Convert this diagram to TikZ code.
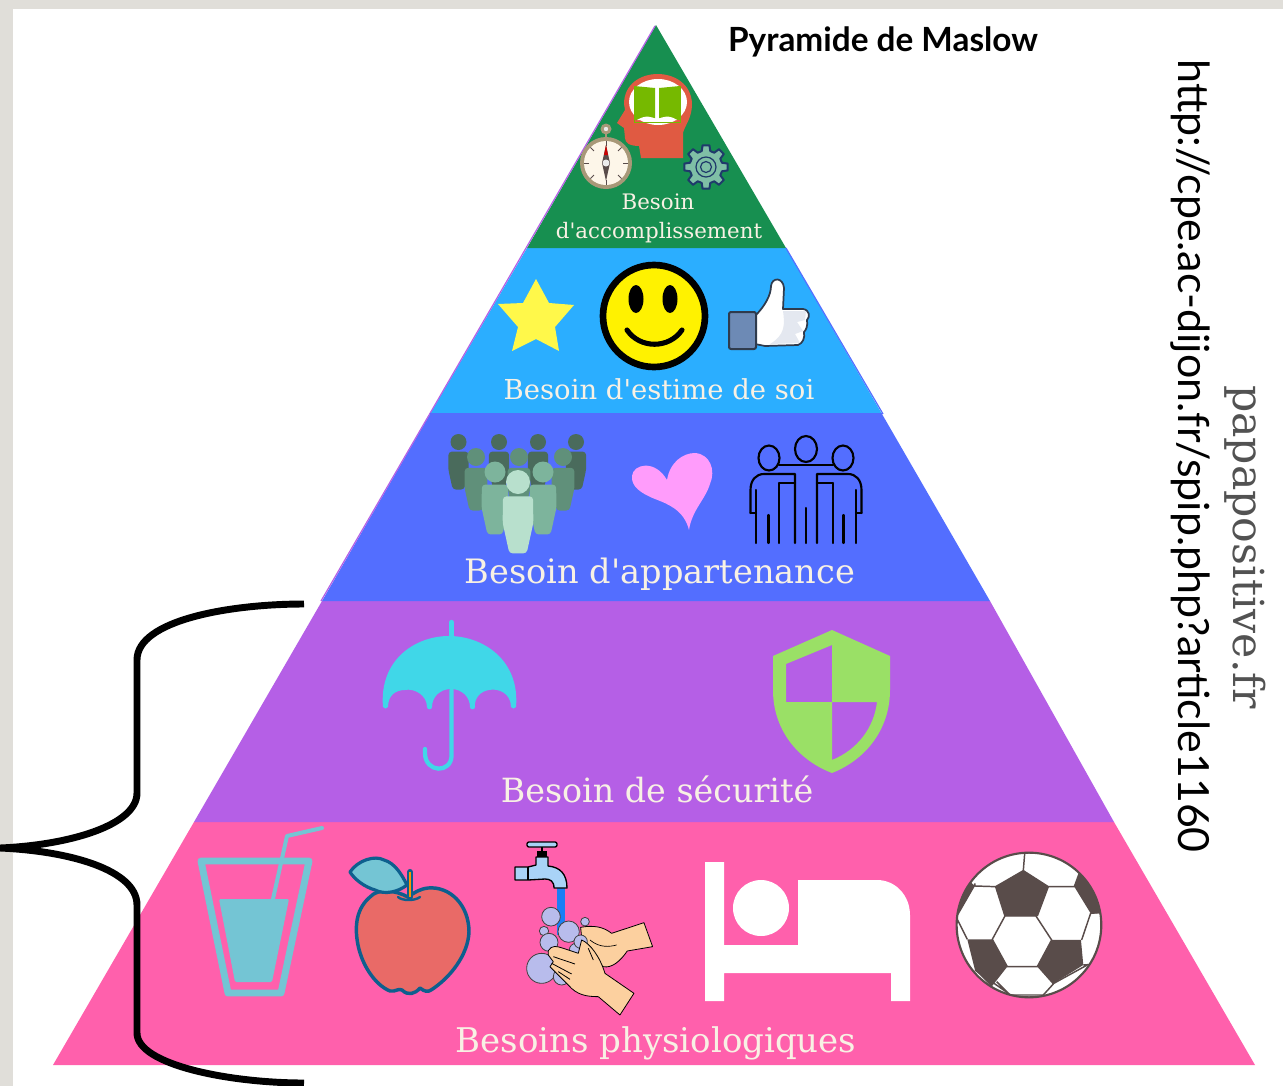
\documentclass[tikz,border=0pt]{standalone}
\usepackage{fontspec}
\newfontfamily\gill{Lato}
\newfontfamily\slab{DejaVu Serif}
\definecolor{bgband}{HTML}{E0DED9}
\definecolor{lgreen}{HTML}{178F50}
\definecolor{lblue}{HTML}{2BAEFF}
\definecolor{lperi}{HTML}{536EFF}
\definecolor{lpurple}{HTML}{B55FE6}
\definecolor{lpink}{HTML}{FF60AC}
\definecolor{cream}{HTML}{F8F1E4}
\definecolor{teal}{HTML}{74C5D4}
\definecolor{ballc}{HTML}{594C4A}
\definecolor{soap}{HTML}{B8BCEC}
\definecolor{skin}{HTML}{FCD09F}
\definecolor{tapc}{HTML}{A9D3F7}
\definecolor{headc}{HTML}{E05A42}
\definecolor{bookc}{HTML}{76B900}
\definecolor{brass}{HTML}{A89878}
\definecolor{dial}{HTML}{FDF6E9}
\definecolor{gearf}{HTML}{7FBFA6}
\definecolor{geard}{HTML}{1F3A6B}
\definecolor{starc}{HTML}{FFF84A}
\definecolor{smile}{HTML}{FFF200}
\definecolor{thumbd}{HTML}{2F3B4D}
\definecolor{thumbs}{HTML}{E4E8F0}
\definecolor{cuff}{HTML}{6D8AB5}
\definecolor{pa}{HTML}{4A6B5C}
\definecolor{pb}{HTML}{60907A}
\definecolor{pc}{HTML}{7DB49C}
\definecolor{pd}{HTML}{B8E0CD}
\definecolor{heartc}{HTML}{FF9CFB}
\definecolor{umb}{HTML}{40D7E8}
\definecolor{shieldc}{HTML}{9AE066}
\definecolor{applec}{HTML}{E96A67}
\definecolor{appled}{HTML}{0E5F8E}
\definecolor{waterc}{HTML}{1A7EF5}
\newcommand{\person}[4]{\begin{scope}[shift={(#1,#2)},scale=#3]
\fill[#4] (0,0) circle [radius=1];
\fill[#4,rounded corners=2.5pt] (-1.25,1.2) -- (1.25,1.2) -- (1.28,3.4) -- (.72,5.95) -- (-.72,5.95) -- (-1.28,3.4) -- cycle;
\end{scope}}
\tikzset{
 lab/.style={text=cream,inner sep=0pt,font=\slab\fontsize{#1}{#1}\selectfont},
 fr/.style={draw=black,line width=1.6pt,line cap=round,line join=round},
 bub/.style={fill=soap,draw=black!75,line width=.6pt},
 handc/.style={fill=skin,draw=black,line width=.6pt,line join=round},
 panel/.style={fill=ballc},
 seam/.style={draw=ballc,line width=1.1pt},
}
\begin{document}
\begin{tikzpicture}[x=0.75pt,y=-0.75pt]
\useasboundingbox (0,0) rectangle (1283,1086);
\fill[bgband] (0,0) rectangle (1283,1086);
\fill[white] (13,9) rectangle (1283,1086);
% layers
\fill[lpink] (194,822) -- (1114,822) -- (1255,1065) -- (53,1065) -- cycle;
\fill[lpurple] (322,601) -- (990,601) -- (1114,822) -- (194,822) -- cycle;
\fill[lperi] (430,414) -- (882,414) -- (990,601) -- (322,601) -- cycle;
\fill[lblue] (527,248) -- (786,248) -- (882,414) -- (430,414) -- cycle;
\fill[lgreen] (656,25) -- (786,248) -- (527,248) -- cycle;
\draw[lpurple,line width=.9pt] (655,26) -- (321,601);
\draw[lperi,line width=.9pt] (786,248) -- (883,414);
\draw[lperi,line width=1.5pt] (430,414) -- (882,414);
% head + book
\fill[headc]
 (624,104) .. controls (624,64) and (691,64) .. (692,104) .. controls (692,118) and (685,125) .. (683,133) -- (683,158) -- (641,158) -- (639,146) .. controls (630,146) and (625,143) .. (625,138) -- (624,128) -- (617,123) -- (625,110) -- cycle;
\fill[white] (658,102) ellipse [x radius=29,y radius=23];
\fill[bookc] (634,86) -- (655,88) -- (655,118) -- (634,120) -- cycle (680,86) -- (659,88) -- (659,118) -- (680,120) -- cycle;
\draw[bookc,line width=.6pt] (634,86) -- (634,122) -- (680,122) -- (680,86);
\fill[white] (637,120) .. controls (645,115) and (652,116) .. (657,120) .. controls (662,116) and (670,115) .. (677,120) -- cycle;
% compass
\draw[brass,line width=1.8pt] (606,139) -- (606,134);
\fill[brass] (606,129) circle [radius=5.5];
\fill[white!85!gray] (606,129) circle [radius=2.2];
\fill[brass] (606,163) circle [radius=26];
\fill[dial] (606,163) circle [radius=22];
\foreach \a in {0,45,...,315}{\draw[ballc,line width=.6pt] (606,163) ++(\a:17) -- ++(\a:5);}
\fill[ballc] (606,145) -- (610,163) -- (606,181) -- (602,163) -- cycle;
\fill[red!80!black] (606,145) -- (608,155) -- (604,155) -- cycle;
\fill[white!85!gray] (606,163) circle [radius=3.5];
% gear
\begin{scope}[shift={(706,167)}]
\draw[fill=gearf,draw=geard,line width=1.5pt,line join=round]
 (-9:22) \foreach \a in {0,45,...,315}{ -- ({\a-9}:22) -- ({\a+9}:22) -- ({\a+15}:16.5) -- ({\a+30}:16.5)} -- cycle;
\draw[geard,line width=.9pt] (0,0) circle [radius=10] (0,0) circle [radius=5.5];
\end{scope}
% star
\fill[starc] (536,279) -- (549,303) -- (574,305) -- (555,327) -- (559,351) -- (536,339) -- (512,351) -- (518,327) -- (498,304) -- (523,303) -- cycle;
% smiley
\draw[fill=smile,draw=black,line width=5pt] (654,316) circle [radius=51];
\fill[black] (636,299) ellipse [x radius=7.5,y radius=14];
\fill[black] (670,299) ellipse [x radius=7.5,y radius=14];
\draw[black,line width=3.8pt,line cap=round] (627,330) .. controls (640,349) and (669,349) .. (682,330);
% thumb
\draw[fill=white,draw=thumbd,line width=1.3pt,line join=round]
 (755,316) .. controls (765,306) and (771,295) .. (771,286) .. controls (772,277) and (783,277) .. (784,288) -- (783,309) -- (803,309) .. controls (810,310) and (810,317) .. (807,320) .. controls (808,326) and (806,330) .. (804,332) .. controls (805,338) and (803,343) .. (798,345) -- (765,346) -- (755,344) -- cycle;
\fill[thumbs] (783,311) -- (806,311) -- (805,320) -- (797,322) -- (803,331) -- (795,334) -- (800,343) -- (770,344) .. controls (785,335) and (785,325) .. (783,311) -- cycle;
\draw[fill=cuff,draw=thumbd,line width=1.5pt,rounded corners=1.5pt] (729,312) rectangle (756,349);
% crowd
\person{458.5}{442}{8}{pa}
\person{499}{442}{8}{pa}
\person{538}{442}{8}{pa}
\person{576}{442}{8}{pa}
\person{476}{457}{9}{pb}
\person{519}{457}{9}{pb}
\person{563}{457}{9}{pb}
\person{495}{472}{10.5}{pc}
\person{543}{472}{10.5}{pc}
\person{518}{482}{12}{pd}
% heart
\fill[heartc] (689,530) .. controls (684,510) and (668,504) .. (655,499) .. controls (640,493) and (631,486) .. (632,476) .. controls (633,464) and (655,459) .. (667,480) .. controls (670,462) and (683,453) .. (695,453) .. controls (710,454) and (716,470) .. (710,484) .. controls (705,500) and (692,510) .. (689,530) -- cycle;
% friends
\foreach \sg in {1,-1}{
 \begin{scope}[shift={(806,0)},xscale=\sg]
 \draw[fr] (37,458) ellipse [x radius=10.5,y radius=12.5];
 \draw[fr] (55.5,513) -- (55.5,490) .. controls (55.5,480) and (50,474) .. (42,474) -- (11,474) -- (11,543);
 \draw[fr] (50,490) -- (50,543) (50,513) -- (55.5,513);
 \draw[fr] (37.5,515) -- (37.5,543);
 \draw[fr] (27,483) -- (27,543) (27,483) -- (11,483);
 \end{scope}}
\draw[fr] (806,449) ellipse [x radius=11,y radius=13];
\draw[fr] (779,465) -- (833,465);
\draw[fr] (806,508) -- (806,543);
% umbrella
\fill[umb] (383,707) .. controls (379,660) and (415,636) .. (449,636) .. controls (483,636) and (520,660) .. (516,707) .. controls (515,709) and (512,709) .. (511,707) .. controls (511,693) and (498,688) .. (489,690) .. controls (481,691) and (474,698) .. (475,707) .. controls (475,710) and (470,710) .. (470,707) .. controls (470,697) and (462,689) .. (451,689) .. controls (440,689) and (432,697) .. (432,707) .. controls (432,710) and (427,710) .. (427,707) .. controls (427,695) and (414,688) .. (405,690) .. controls (396,690) and (388,695) .. (388,707) .. controls (387,709) and (384,709) .. (383,707) -- cycle;
\draw[umb,line width=3.2pt,line cap=round] (451.6,622) -- (451.6,637);
\draw[umb,line width=3.2pt,line cap=round] (451.6,690) -- (451.6,755) .. controls (451.6,774) and (425,773) .. (425,753) -- (425,749);
% shield
\fill[shieldc,even odd rule] (832,630) -- (890,656) -- (890,690) .. controls (890,730) and (865,760) .. (832,773) .. controls (798,760) and (773,730) .. (773,690) -- (773,656) -- cycle
 (786,664) -- (832,645) -- (832,702) -- (786,702) -- cycle
 (832,702) -- (877,702) .. controls (874,728) and (857,750) .. (832,760) -- cycle;
% glass
\draw[teal,line width=5.2pt,line join=round] (201,861) -- (309,861) -- (281,993) -- (228,993) -- cycle;
\fill[teal,rounded corners=1pt] (219,899) -- (289,899) -- (272,982) -- (235,982) -- cycle;
\draw[teal,line width=3pt,line cap=round,line join=round] (273,899) -- (287,836) -- (322,828);
% apple
\draw[fill=applec,draw=appled,line width=2.6pt,line join=round]
 (408,897) .. controls (395,890) and (378,888) .. (370,897) .. controls (357,908) and (354,925) .. (358,945) .. controls (362,965) and (375,985) .. (390,991) .. controls (396,992) and (398,988) .. (402,990) .. controls (408,996) and (415,994) .. (420,988) .. controls (425,992) and (428,992) .. (431,990) .. controls (450,978) and (468,955) .. (469,932) .. controls (469,905) and (450,886) .. (428,888) .. controls (420,889) and (415,892) .. (408,897) -- cycle;
\draw[appled,line width=1.8pt,line cap=round] (398,897) .. controls (402,901) and (415,901) .. (420,897);
\draw[fill=teal,draw=appled,line width=2.4pt,line join=round] (350,872) .. controls (358,860) and (375,855) .. (384,860) .. controls (395,863) and (402,875) .. (407,885) .. controls (398,892) and (385,895) .. (375,890) .. controls (365,887) and (355,880) .. (350,872) -- cycle;
\draw[appled,line width=4.6pt,line cap=round] (410,872) -- (410,897);
\draw[orange!85!yellow,line width=2pt] (410,872) -- (410,897);
% water + tap
\fill[waterc] (557,888) rectangle (565,935);
\draw[fill=tapc,draw=black,line width=1pt,line join=round] (515,867) -- (528,867) -- (536,865) -- (536,857) -- (548,857) -- (548,866) .. controls (560,867) and (567,874) .. (567,888) -- (554,888) .. controls (554,881) and (550,879) .. (545,879) -- (528,880) -- (515,880) -- cycle;
\draw[black,line width=1.2pt] (528,867) -- (528,880);
\fill[black] (537,851) rectangle (547,857);
\draw[fill=tapc,draw=black,line width=1pt,rounded corners=1.5pt] (527,842) rectangle (557,847);
\draw[black,line width=2pt] (542,847) -- (542,851);
% back hand, bubbles, front hand
\begin{scope}[shift={(170,820)},scale=0.3333]
\draw[handc] (1232,322) .. controls (1270,315) and (1300,320) .. (1325,340) -- (1422,308) -- (1448,380) -- (1372,393) .. controls (1350,425) and (1325,445) .. (1300,440) -- (1240,400) -- cycle;
\draw[black,line width=.5pt] (1260,360) .. controls (1290,385) and (1320,380) .. (1340,375);
\end{scope}
\foreach \bx/\by/\br in {1115/445/45,1175/470/25,1143/290/28,1196/335/32,1245/305/13,1122/333/14,1137/367/27,1218/390/20,1232/365/20}{
 \draw[bub] ({170+\bx/3},{820+\by/3}) circle [radius={\br/3}];}
\begin{scope}[shift={(170,820)},scale=0.3333]
\draw[handc] (1135,392) .. controls (1145,375) and (1160,378) .. (1180,385) -- (1225,400) -- (1235,360) .. controls (1260,370) and (1290,410) .. (1305,460) -- (1392,520) -- (1350,585) -- (1285,530) .. controls (1250,530) and (1220,525) .. (1195,495) -- (1140,440) -- (1150,425) -- (1135,405) -- cycle;
\draw[black,line width=.6pt] (1150,410) -- (1215,432) (1145,430) -- (1205,462) (1165,455) -- (1200,478) (1255,385) -- (1270,420);
\end{scope}
% bed
\fill[white] (705,862) -- (724,862) -- (724,945) -- (798,945) -- (798,880) -- (877,880) .. controls (896,880) and (910,896) .. (910,915) -- (910,1001) -- (891,1001) -- (891,973) -- (724,973) -- (724,1001) -- (705,1001) -- cycle;
\fill[white] (761,908) circle [radius=28];
% ball
\begin{scope}[shift={(680,830)},scale=0.3333]
\fill[white] (1047,285) circle [radius=217];
\begin{scope}
\clip (1047,285) circle [radius=217];
\fill[panel] (1030,122) -- (1105,170) -- (1072,258) -- (975,258) -- (947,170) -- cycle;
\fill[panel] (862,328) -- (937,328) -- (982,410) -- (935,470) -- (885,420) -- cycle;
\fill[panel] (1115,330) -- (1203,330) -- (1210,405) -- (1118,462) -- (1072,410) -- cycle;
\fill[panel] (1183,170) -- (1197,132) -- (1300,180) -- (1300,250) -- (1232,250) -- cycle;
\fill[panel] (885,168) -- (835,255) -- (780,220) -- (830,120) -- cycle;
\draw[seam] (975,258) -- (1068,258) -- (1115,330) -- (1072,410) -- (982,410) -- (937,328) -- cycle;
\draw[seam] (1030,122) -- (1035,60) (947,170) -- (885,168) -- (885,160) (1105,170) -- (1183,170) -- (1197,132);
\draw[seam] (1232,250) -- (1205,330) (1232,250) -- (1290,245) (1210,405) -- (1240,403) (1120,462) -- (1090,495) (950,455) -- (990,495) -- (1090,495) (862,328) -- (832,268) (885,420) -- (985,490) (1118,462) -- (1222,405);
\draw[seam] (1030,122) -- (1105,170) -- (1072,258) (975,258) -- (947,170) -- (1030,122);
\end{scope}
\draw[ballc,line width=1.6pt] (1047,285) circle [radius=217];
\end{scope}
% brace
\coordinate (bt) at (304,604); \coordinate (bm) at (0,848); \coordinate (bb) at (304,1083);
\draw[black,line width=5.2pt] (bt) .. controls (230,604) and (137,620) .. (137,660) -- (137,793) .. controls (137,825) and (70,845) .. (bm) .. controls (70,851) and (137,870) .. (137,905) -- (137,1033) .. controls (137,1065) and (230,1083) .. (bb);
% texts
\node[lab=16] (t1) at (658,202) {Besoin};
\node[lab=16] (t2) at (659,233) {d'accomplissement};
\node[lab=20.6] (t3) at (659,389) {Besoin d'estime de soi};
\node[lab=25.2] (t4) at (660,574) {Besoin d'appartenance};
\node[lab=25] (t5) at (657,789) {Besoin de sécurité};
\node[lab=25.5] (t6) at (656,1043) {Besoins physiologiques};
\node[inner sep=0pt,font=\gill\bfseries\fontsize{25}{25}\selectfont] (title) at (883,42) {Pyramide de Maslow};
\node[inner sep=0pt,rotate=-90,font=\gill\fontsize{32.2}{32.2}\selectfont] (url) at (1190,456) {http://cpe.ac-dijon.fr/spip.php?article1160};
\node[inner sep=0pt,rotate=-90,text=black!68,font=\slab\fontsize{32}{32}\selectfont] (pp) at (1245,547) {papapositive.fr};
\end{tikzpicture}
\end{document}
